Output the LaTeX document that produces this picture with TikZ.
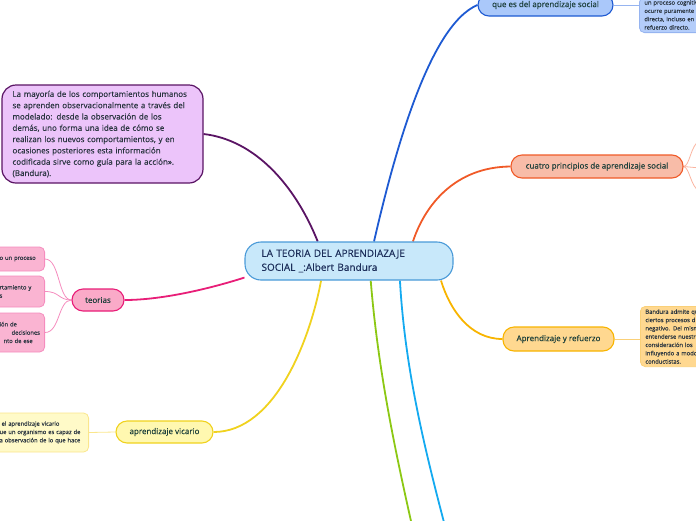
\documentclass[tikz,border=0pt]{standalone}
\usepackage{fontspec}
\setmainfont{Open Sans}[FakeBold=0.35]
\usetikzlibrary{backgrounds}
\definecolor{titlefill}{HTML}{C8E8FA}
\definecolor{titleline}{HTML}{4A9AD8}
\definecolor{titletext}{HTML}{1C2E5A}
\definecolor{nodetext}{HTML}{1C3F3A}
\definecolor{notetext}{HTML}{2A3540}
\definecolor{queline}{HTML}{1E5AD2}
\definecolor{quefill}{HTML}{AAC8FA}
\definecolor{queboxfill}{HTML}{B4CDFA}
\definecolor{queboxline}{HTML}{96B4F0}
\definecolor{mayline}{HTML}{5A1464}
\definecolor{mayfill}{HTML}{ECC4FA}
\definecolor{cualine}{HTML}{F05A28}
\definecolor{cuafill}{HTML}{F8BCA8}
\definecolor{cuatwig}{HTML}{FAB4A0}
\definecolor{teoline}{HTML}{E81E78}
\definecolor{teofill}{HTML}{FAAAC8}
\definecolor{teoboxfill}{HTML}{FAB4D2}
\definecolor{teoboxline}{HTML}{F58CBE}
\definecolor{vicline}{HTML}{F0D21E}
\definecolor{vicfill}{HTML}{FFF8B0}
\definecolor{vicboxfill}{HTML}{FFFAC8}
\definecolor{vicboxline}{HTML}{FAE68C}
\definecolor{refline}{HTML}{F8B400}
\definecolor{reffill}{HTML}{FFD890}
\definecolor{refboxline}{HTML}{FAD078}
\definecolor{verde}{HTML}{8CC814}
\definecolor{celeste}{HTML}{14AAF0}
\begin{document}
\begin{tikzpicture}[x=1pt, y=-1pt,
    conn/.style={line width=1.8pt},
    twig/.style={line width=0.8pt},
    topic/.style={draw, line width=1.1pt, rounded corners=11pt, text=nodetext,
      font=\fontsize{8}{10}\selectfont, inner sep=0pt, minimum height=22pt},
    notebox/.style={draw, line width=0.8pt, rounded corners=5pt, text=notetext,
      font=\fontsize{5.8}{8.3}\selectfont, align=left, inner xsep=5pt, inner ysep=3pt}]
  \useasboundingbox (0,0) rectangle (696,520);
  \clip (0,0) rectangle (696,520);

  \node[draw=titleline, fill=titlefill, line width=1.1pt, rounded corners=16pt, text=titletext,
    font=\fontsize{10}{14}\selectfont, align=left, text width=175pt, inner xsep=16.5pt,
    minimum height=38pt] (titulo) at (349,261) {LA TEORIA DEL APRENDIAZAJE\\SOCIAL \_:Albert Bandura};

  \node[topic, draw=queline, fill=quefill, minimum width=135pt] (quees) at (545.5,5) {que es del aprendizaje social};
  \node[topic, draw=cualine, fill=cuafill, minimum width=172pt, minimum height=23pt] (cuatro) at (597,166.5) {cuatro principios de aprendizaje social};
  \node[topic, draw=refline, fill=reffill, minimum width=111pt, minimum height=24pt] (refuerzo) at (558.5,339) {Aprendizaje y refuerzo};
  \node[topic, draw=vicline, fill=vicfill, minimum width=97pt] (vicario) at (164.5,432) {aprendizaje vicario};
  \node[topic, draw=teoline, fill=teofill, minimum width=52pt] (teorias) at (98,300) {teorias};

  \node[draw=mayline, fill=mayfill, line width=1.2pt, rounded corners=14pt, text=notetext,
    font=\fontsize{8}{11.3}\selectfont, align=left, text width=180pt, inner xsep=10.5pt,
    minimum height=98pt] (mayoria) at (102.5,134) {La mayoría de los comportamientos humanos\\
    se aprenden observacionalmente a través del\\modelado: desde la observación de los\\
    demás, uno forma una idea de cómo se\\realizan los nuevos comportamientos, y en\\
    ocasiones posteriores esta información\\codificada sirve como guía para la acción».\\(Bandura).};

  \node[notebox, draw=queboxline, fill=queboxfill, anchor=south west, text width=110pt] (quebox) at (639,33)
    {un proceso cognitiv\\ocurre puramente\\directa, incluso en a\\refuerzo directo.};
  \node[notebox, draw=refboxline, fill=reffill, anchor=north west, text width=110pt] (refbox) at (640,306)
    {Bandura admite qu\\ciertos procesos d\\negativo. Del mism\\entenderse nuestr\\consideración los\\influyendo a modo\\conductistas.};
  \node[notebox, draw=teoboxline, fill=teoboxfill, anchor=east, text width=40pt, minimum height=24pt] (teo1) at (45,259) {o un proceso};
  \node[notebox, draw=teoboxline, fill=teoboxfill, anchor=east, text width=40pt, minimum height=31pt] (teo2) at (45,291.5) {rtamiento y\\s};
  \node[notebox, draw=teoboxline, fill=teoboxfill, anchor=east, text width=40pt, minimum height=39pt] (teo3) at (45,332.5)
    {ión de\\\mbox{\hspace{12pt}decisiones}\\\mbox{\hspace{4pt}nto de ese}};
  \node[notebox, draw=vicboxline, fill=vicboxfill, anchor=east, text width=84pt, minimum height=39pt] (vicbox) at (89,432.5)
    {\mbox{\hspace{2pt}el aprendizaje vicario}\\ue un organismo es capaz de\\a observación de lo que hace};

  \coordinate (fan1) at (700,140);
  \coordinate (fan2) at (700,168);
  \coordinate (fan3) at (700,192);
  \coordinate (verdefin) at (413,530);
  \coordinate (celestefin) at (446,530);

  \begin{scope}[on background layer]
    \clip (0,0) rectangle (696,520);
    \draw[conn, queline] (titulo.38) .. controls (395,150) and (430,25) .. (quees.west);
    \draw[conn, mayline] (titulo.148) .. controls (295,185) and (255,140) .. (mayoria.east);
    \draw[conn, cualine] (titulo.17) .. controls (425,205) and (455,167) .. (cuatro.west);
    \draw[conn, teoline] (titulo.189) .. controls (215,287) and (165,300) .. (teorias.east);
    \draw[conn, vicline] (titulo.215) .. controls (310,340) and (275,432) .. (vicario.east);
    \draw[conn, refline] (titulo.348) .. controls (450,310) and (470,339) .. (refuerzo.west);
    \draw[conn, verde] (titulo.318) .. controls (378,370) and (395,450) .. (verdefin);
    \draw[conn, celeste] (titulo.339) .. controls (405,370) and (425,450) .. (celestefin);
    \draw[twig, queboxline] (quees.east) -- (quebox.west |- quees.east);
    \draw[twig, cuatwig] (cuatro.east) .. controls (690,166) and (690,146) .. (fan1);
    \draw[twig, cuatwig] (cuatro.east) -- (fan2);
    \draw[twig, cuatwig] (cuatro.east) .. controls (690,168) and (690,186) .. (fan3);
    \draw[twig, teoboxline] (teorias.west) .. controls (58,300) and (60,259) .. (teo1.east);
    \draw[twig, teoboxline] (teorias.west) .. controls (58,300) and (60,291.5) .. (teo2.east);
    \draw[twig, teoboxline] (teorias.west) .. controls (58,300) and (60,332.5) .. (teo3.east);
    \draw[twig, vicboxline] (vicario.west) -- (vicbox.east);
    \draw[twig, refboxline] (refuerzo.east) -- (refbox.west |- refuerzo.east);
  \end{scope}
\end{tikzpicture}
\end{document}
